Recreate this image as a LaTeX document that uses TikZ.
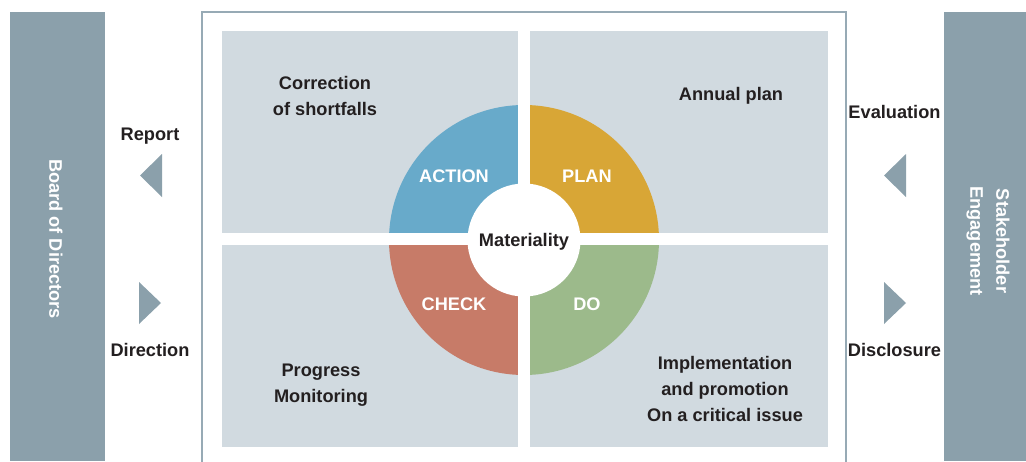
\documentclass[tikz,border=0pt]{standalone}
\usepackage{fontspec}
\setmainfont{Liberation Sans}
\definecolor{barc}{HTML}{8BA0AB}
\definecolor{framec}{HTML}{97AAB5}
\definecolor{quadc}{HTML}{D1DAE0}
\definecolor{actc}{HTML}{68AACA}
\definecolor{planc}{HTML}{D8A636}
\definecolor{checkc}{HTML}{C77B68}
\definecolor{doc}{HTML}{9CBA8B}
\definecolor{txt}{HTML}{231F20}
\begin{document}
\begin{tikzpicture}[x=1pt,y=-1pt,
  lbl/.style={font=\fontsize{18.2}{26}\selectfont\bfseries, text=txt, align=center, anchor=base, inner sep=0pt},
  wlbl/.style={lbl, text=white},
  quad/.style={fill=quadc},
  tri/.style={fill=barc}]
\useasboundingbox (0,0) rectangle (1026,461);
\fill[white] (0,0) rectangle (1026,461);
% side bars
\fill[barc] (10,12) rectangle (105,461);
\fill[barc] (944,12) rectangle (1026,461);
\node[wlbl, rotate=-90, anchor=center] (board) at (56,239) {Board of Directors};
\node[wlbl, rotate=-90, anchor=center] (stake) at (988,241) {Stakeholder\\Engagement};
% frame
\draw[framec, line width=1.3pt] (202,462) -- (202,12) -- (846,12) -- (846,462);
% quadrants
\fill[quad] (222,31) rectangle (518,233);
\fill[quad] (530,31) rectangle (828,233);
\fill[quad] (222,245) rectangle (518,447);
\fill[quad] (530,245) rectangle (828,447);
% sectors
\coordinate (c) at (524,240);
\fill[actc] (c) -- ++(180:135) arc[start angle=180,end angle=270,radius=135] -- cycle;
\fill[planc] (c) -- ++(270:135) arc[start angle=270,end angle=360,radius=135] -- cycle;
\fill[doc] (c) -- ++(0:135) arc[start angle=0,end angle=90,radius=135] -- cycle;
\fill[checkc] (c) -- ++(90:135) arc[start angle=90,end angle=180,radius=135] -- cycle;
\fill[white] (518,100) rectangle (530,380);
\fill[white] (385,233) rectangle (665,245);
\node[circle, fill=white, minimum size=113pt, inner sep=0pt] (matc) at (c) {};
\node[lbl] (mat) at (524,246.5) {Materiality};
\node[wlbl] (action) at (454,182.5) {ACTION};
\node[wlbl] (plan) at (587,182.5) {PLAN};
\node[wlbl] (check) at (454,310.5) {CHECK};
\node[wlbl] (do) at (587,310.5) {DO};
% quadrant texts
\node[lbl] (corr) at (325,115.5) {Correction\\of shortfalls};
\node[lbl] (annual) at (731,100.5) {Annual plan};
\node[lbl] (prog) at (321,402.5) {Progress\\Monitoring};
\node[lbl] (impl) at (725,421.5) {Implementation\\and promotion\\On a critical issue};
% arrows
\fill[tri] (162,154) -- (162,197) -- (140,175.5) -- cycle;
\fill[tri] (139,282) -- (139,324) -- (161,303) -- cycle;
\fill[tri] (906,154) -- (906,197) -- (884,175.5) -- cycle;
\fill[tri] (884,282) -- (884,324) -- (906,303) -- cycle;
\node[lbl] (report) at (150,140.5) {Report};
\node[lbl] (direction) at (150,356.5) {Direction};
\node[lbl] (eval) at (894.5,118) {Evaluation};
\node[lbl] (discl) at (894.5,356.5) {Disclosure};
\end{tikzpicture}
\end{document}
